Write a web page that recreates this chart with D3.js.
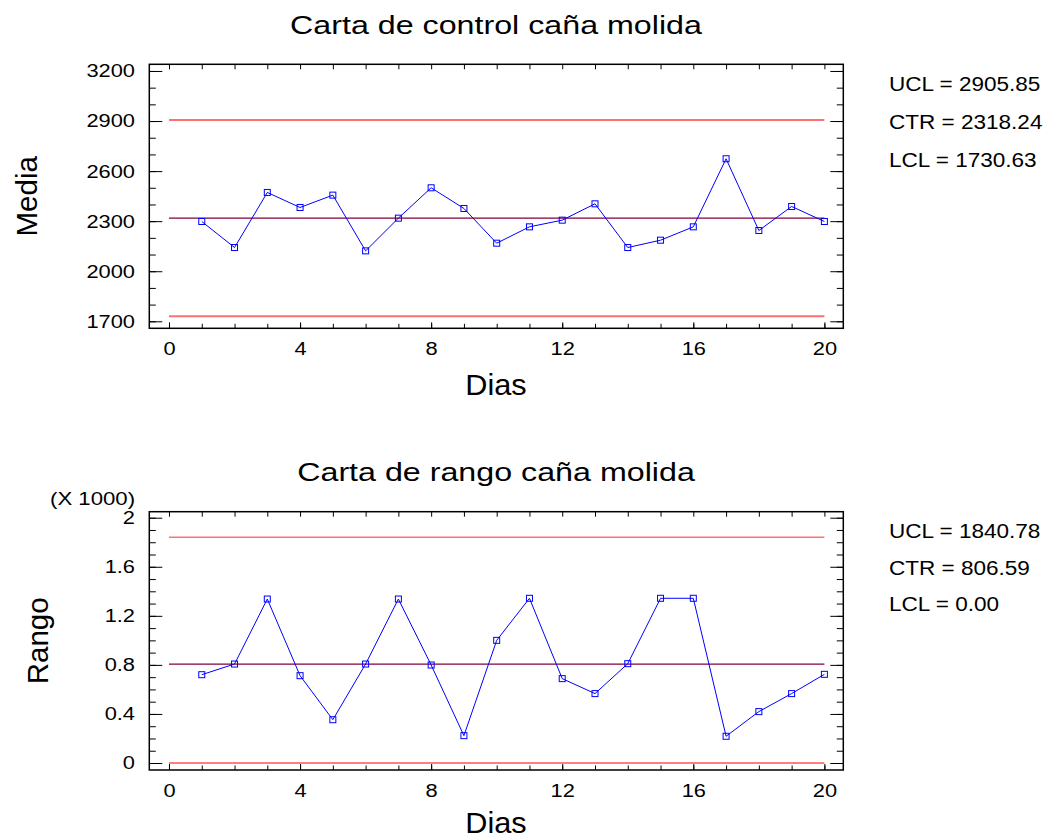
<!DOCTYPE html>
<html>
<head>
<meta charset="utf-8">
<script src="https://cdn.jsdelivr.net/npm/d3@7"></script>
<style>
  body { margin: 0; background: #fff; }
  svg text { font-family: "Liberation Sans", Arial, Helvetica, sans-serif; fill: #000; }
</style>
</head>
<body>
<svg id="chart" width="1049" height="840"></svg>
<script>
// Daily samples of milled cane: subgroup mean and range
const dias = [1, 2, 3, 4, 5, 6, 7, 8, 9, 10, 11, 12, 13, 14, 15, 16, 17, 18, 19, 20];
const media = [2298, 2142, 2472, 2382, 2456, 2122, 2318, 2500, 2376, 2168,
               2266, 2306, 2404, 2142, 2186, 2266, 2674, 2244, 2388, 2298];
const rango = [720, 807, 1337, 712, 353, 807, 1337, 799, 223, 1000,
               1343, 688, 566, 810, 1343, 1343, 218, 419, 566, 723];

// Control limits: UCL, CTR, LCL
const etiquetasLimites = ["UCL", "CTR", "LCL"];
const mediaLimites = [2905.85, 2318.24, 1730.63];
const rangoLimites = [1840.78, 806.59, 0.00];

// Axis ticks
const diasTicks = [0, 4, 8, 12, 16, 20];
const mediaTicks = [1700, 2000, 2300, 2600, 2900, 3200];
const rangoTicks = [0, 400, 800, 1200, 1600, 2000];

const svg = d3.select("#chart");
const left = 149.3, right = 843.3;
const SX_TICK = 1.18;

const x = d3.scaleLinear().domain([-0.601, 20.577]).range([left, right]);

function stretchedText(parent, px, py, str, size, sx, anchor, rotate) {
  const g = parent.append("g")
    .attr("transform", `translate(${px},${py})` + (rotate ? ` rotate(${rotate})` : "") + ` scale(${sx},1)`);
  g.append("text")
    .attr("font-size", size)
    .attr("text-anchor", anchor || "start")
    .text(str);
  return g;
}

function panel(cfg) {
  const y = d3.scaleLinear().domain(cfg.yDomain).range([cfg.bottom, cfg.top]);
  const g = svg.append("g");

  // y axis, left: major with labels, minor without
  const yLeft = g.append("g").attr("transform", `translate(${left},0)`)
    .call(d3.axisLeft(y).tickValues(cfg.yTicks).tickSizeInner(-13).tickSizeOuter(0)
      .tickPadding(12).tickFormat(cfg.yFormat));
  yLeft.selectAll(".tick text")
    .attr("font-size", 18.5).attr("font-family", null)
    .attr("x", -14.3 / SX_TICK)
    .attr("transform", `scale(${SX_TICK},1)`);
  g.append("g").attr("transform", `translate(${left},0)`)
    .call(d3.axisLeft(y).tickValues(cfg.yMinor).tickSize(-6.5).tickFormat(""));

  // y axis, right (ticks only)
  g.append("g").attr("transform", `translate(${right},0)`)
    .call(d3.axisRight(y).tickValues(cfg.yTicks).tickSize(-13).tickFormat(""));
  g.append("g").attr("transform", `translate(${right},0)`)
    .call(d3.axisRight(y).tickValues(cfg.yMinor).tickSize(-6.5).tickFormat(""));

  // x axis, bottom with labels, top ticks only
  const xBottom = g.append("g").attr("transform", `translate(0,${cfg.bottom})`)
    .call(d3.axisBottom(x).tickValues(diasTicks).tickSizeInner(-6).tickSizeOuter(0)
      .tickPadding(13.7).tickFormat(d3.format("d")));
  xBottom.selectAll(".tick text")
    .attr("font-size", 18.5).attr("font-family", null)
    .attr("transform", `scale(${SX_TICK},1)`);
  g.append("g").attr("transform", `translate(0,${cfg.bottom})`)
    .call(d3.axisBottom(x).tickValues(d3.range(0, 21)).tickSize(-4.5).tickFormat(""));
  g.append("g").attr("transform", `translate(0,${cfg.top})`)
    .call(d3.axisTop(x).tickValues(d3.range(0, 21)).tickSize(-5).tickFormat(""));

  g.selectAll(".domain").remove();
  g.selectAll(".tick line").attr("stroke", "#000").attr("stroke-width", 1);

  // control lines
  g.append("g").selectAll("line")
    .data(cfg.limits)
    .join("line")
    .attr("x1", x(0)).attr("x2", x(20))
    .attr("y1", d => y(d)).attr("y2", d => y(d))
    .attr("stroke", (d, i) => cfg.limitColors[i])
    .attr("stroke-width", (d, i) => cfg.limitWidths[i]);

  // frame
  g.append("rect")
    .attr("x", left).attr("y", cfg.top)
    .attr("width", right - left).attr("height", cfg.bottom - cfg.top)
    .attr("fill", "none").attr("stroke", "#000").attr("stroke-width", 1.5);

  // series
  const pts = dias.map((d, i) => [d, cfg.values[i]]);
  g.append("path")
    .datum(pts)
    .attr("fill", "none").attr("stroke", "#0000ff").attr("stroke-width", 1)
    .attr("d", d3.line().x(d => x(d[0])).y(d => y(d[1])));
  g.append("g").selectAll("rect")
    .data(pts)
    .join("rect")
    .attr("x", d => x(d[0]) - 3).attr("y", d => y(d[1]) - 3)
    .attr("width", 6).attr("height", 6)
    .attr("fill", "none").attr("stroke", "#0000ff").attr("stroke-width", 1);

  // titles
  stretchedText(svg, (left + right) / 2 - 0.3, cfg.top - 30.5, cfg.title, 26, 1.24, "middle");
  stretchedText(svg, 496, cfg.xTitleY, "Dias", 29.5, 1.04, "middle");
  stretchedText(svg, cfg.yTitleX, (cfg.top + cfg.bottom) / 2, cfg.yTitle, 29.5, 1.0, "middle", -90);

  // limit values
  cfg.limits.forEach((v, i) => {
    stretchedText(svg, 889, cfg.statsY[i],
      `${etiquetasLimites[i]} = ${v.toFixed(2)}`, 20.5, 1.1, "start");
  });
  return y;
}

panel({
  title: "Carta de control caña molida",
  yTitle: "Media",
  yTitleX: 36.7,
  xTitleY: 395,
  top: 64.3, bottom: 328.3,
  yDomain: [1658, 3240],
  yTicks: mediaTicks,
  yMinor: d3.range(1700, 3201, 100),
  yFormat: d3.format("d"),
  values: media,
  limits: mediaLimites,
  limitColors: ["#ff7070", "#800040", "#ff7070"],
  limitWidths: [2, 1.3, 2],
  statsY: [91, 129, 167]
});

panel({
  title: "Carta de rango caña molida",
  yTitle: "Rango",
  yTitleX: 48,
  xTitleY: 833,
  top: 511.7, bottom: 770,
  yDomain: [-57, 2049],
  yTicks: rangoTicks,
  yMinor: d3.range(0, 2001, 100),
  yFormat: d => d3.format("~g")(d / 1000),
  values: rango,
  limits: rangoLimites,
  limitColors: ["#ff7070", "#800040", "#ff0000"],
  limitWidths: [1.3, 1.3, 1.2],
  statsY: [538, 575, 611]
});

stretchedText(svg, 50, 505, "(X 1000)", 18.5, 1.2, "start");
</script>
</body>
</html>
